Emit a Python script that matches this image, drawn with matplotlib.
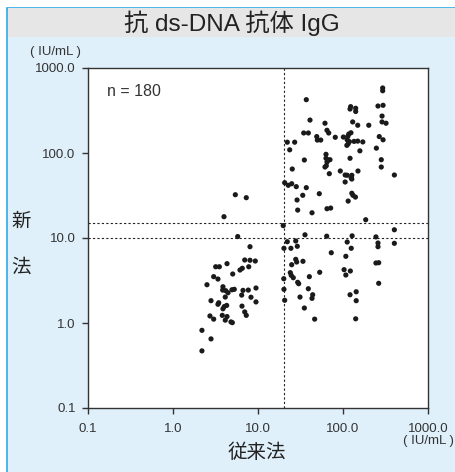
import matplotlib.pyplot as plt
from matplotlib.patches import Rectangle

# 従来法 (x) vs 新法 (y), IU/mL
conventional = [
    3.98, 5.77, 8.05, 3.18, 3.51, 4.32, 6.98, 8.05, 9.29, 7.78,
    6.14, 6.53, 5.04, 3.01, 3.38, 2.51, 3.87, 3.84, 4.17, 4.44,
    4.94, 5.26, 6.66, 7.69, 9.47, 6.43, 4.12, 8.27, 2.80, 3.45,
    3.38, 4.28, 4.01, 3.87, 9.47, 6.48, 6.98, 7.28, 2.72, 3.01,
    3.80, 4.32, 4.12, 4.81, 4.99, 2.19, 2.80, 2.19, 5.41, 7.28,
    293, 293, 37.0, 258, 296, 123, 121, 141, 141, 288,
    40.9, 130, 149, 288, 321, 61.4, 201, 64.8, 67.9, 34.5,
    39.1, 124, 117, 114, 81.1, 101, 49.1, 49.9, 54.7, 267,
    296, 112, 119, 135, 149, 171, 22.1, 27.0, 111, 115,
    23.6, 247, 158, 63.1, 121, 35.1, 63.1, 67.2, 70.3, 64.8,
    282, 282, 61.4, 63.6, 25.3, 92.9, 150, 69.0, 106, 112,
    127, 125, 127, 402, 106, 20.6, 22.7, 24.9, 28.2, 37.0,
    33.6, 52.6, 127, 131, 140, 28.8, 115, 64.8, 71.6, 29.3,
    43.2, 185, 19.8, 35.7, 64.3, 128, 244, 402, 22.1, 27.8,
    29.0, 24.4, 20.2, 72.8, 112, 125, 258, 258, 402, 108,
    27.8, 28.5, 24.9, 33.8, 244, 263, 53.2, 103, 122, 108,
    24.0, 24.6, 26.0, 20.1, 40.2, 29.3, 30.1, 263, 20.2, 39.1,
    44.0, 43.2, 31.2, 121, 143, 143, 20.6, 35.1, 46.4, 141,
]
new_method = [
    17.8, 10.4, 7.90, 4.59, 4.59, 4.99, 5.51, 5.47, 5.36, 4.59,
    4.20, 4.40, 3.77, 3.51, 3.29, 2.82, 2.67, 2.44, 2.40, 2.27,
    2.46, 2.49, 2.42, 2.44, 2.58, 2.13, 2.02, 2.01, 1.83, 1.73,
    1.66, 1.61, 1.56, 1.47, 1.77, 1.58, 1.35, 1.23, 1.21, 1.11,
    1.23, 1.19, 1.08, 1.03, 1.01, 0.82, 0.65, 0.47, 32.3, 29.8,
    582, 540, 424, 357, 364, 351, 329, 336, 308, 272,
    244, 232, 212, 232, 224, 224, 212, 185, 172, 172,
    172, 173, 167, 157, 153, 154, 156, 142, 142, 156,
    143, 143, 136, 137, 138, 135, 134, 134, 123, 128,
    109, 114, 106, 96.5, 86.7, 82.7, 86.7, 82.7, 83.4, 78.3,
    83.4, 68.4, 68.4, 70.9, 64.8, 61.4, 61.4, 57.1, 55.1, 54.7,
    54.7, 50.8, 49.4, 55.1, 45.6, 44.7, 41.7, 43.5, 40.2, 39.1,
    31.8, 33.2, 33.6, 31.8, 30.3, 28.0, 27.2, 22.1, 22.5, 21.3,
    19.8, 16.4, 14.0, 10.9, 10.5, 10.6, 10.3, 12.5, 9.04, 9.22,
    7.99, 7.57, 7.57, 6.71, 8.97, 7.57, 8.73, 7.90, 8.66, 6.09,
    5.61, 5.22, 4.85, 5.32, 5.08, 5.12, 3.95, 4.24, 4.09, 3.67,
    3.91, 3.64, 3.41, 3.32, 3.51, 3.01, 2.90, 2.93, 2.49, 2.53,
    2.15, 1.95, 2.02, 2.15, 2.33, 1.83, 1.85, 1.50, 1.11, 1.12,
]
x_cut = 20
y_cuts = [10, 15]
ticks = [0.1, 1, 10, 100, 1000]
tick_labels = ['0.1', '1.0', '10.0', '100.0', '1000.0']

fonts = ['Liberation Sans', 'Noto Sans CJK JP', 'DejaVu Sans']
plt.rcParams['font.family'] = fonts
txt = '#333333'

fig = plt.figure(figsize=(4.55, 4.72), dpi=100)
fig.patch.set_facecolor('white')
fig.patches.append(Rectangle((6.5 / 455, -0.02), 1, 1.02 - 8 / 472, transform=fig.transFigure,
                             facecolor='#dff0fb', edgecolor='#2fa8e6', linewidth=1.2, zorder=-2))
fig.patches.append(Rectangle((7.5 / 455, 1 - 37 / 472), 1, 28.5 / 472, transform=fig.transFigure,
                             facecolor='#e6e6e6', edgecolor='none', zorder=-1))
fig.text(232 / 455, 1 - 23 / 472, '抗 ds-DNA 抗体 IgG', ha='center', va='center',
         fontsize=17.5, color='#222222', family=['Liberation Sans', 'Noto Sans CJK JP'])

ax = fig.add_axes([88 / 455, 1 - 408 / 472, 340 / 455, 340 / 472])
ax.set_facecolor('white')
ax.set_xscale('log')
ax.set_yscale('log')
ax.set_xlim(0.1, 1000)
ax.set_ylim(0.1, 1000)
ax.set_xticks(ticks)
ax.set_xticklabels(tick_labels)
ax.set_yticks(ticks)
ax.set_yticklabels(tick_labels)
ax.minorticks_off()
ax.tick_params(length=4, width=1, color='#333333', labelsize=9.5, labelcolor=txt)
ax.tick_params(axis='x', pad=7)
ax.tick_params(axis='y', pad=5)
for s in ax.spines.values():
    s.set_color('#333333')
    s.set_linewidth(1)

ax.axvline(x_cut, color='#222222', lw=0.8, ls=(0, (2, 2)))
for yc in y_cuts:
    ax.axhline(yc, color='#222222', lw=0.8, ls=(0, (2, 2)))

ax.scatter(conventional, new_method, s=14, color='#1a1a1a', edgecolors='none', zorder=3)

ax.text(0.055, 0.93, 'n = 180', transform=ax.transAxes, fontsize=11.5, color=txt, va='center')

fig.text(55 / 455, 1 - 52 / 472, '( IU/mL )', ha='center', va='center', fontsize=9.5, color=txt)
fig.text(428 / 455, 1 - 441 / 472, '( IU/mL )', ha='center', va='center', fontsize=9.5, color=txt)
fig.text(21 / 455, 1 - 222 / 472, '新', ha='center', va='center', fontsize=14, color='#222222')
fig.text(21 / 455, 1 - 268 / 472, '法', ha='center', va='center', fontsize=14, color='#222222')
fig.text(257 / 455, 1 - 453 / 472, '従来法', ha='center', va='center', fontsize=14, color='#222222')

fig.savefig('out.png', dpi=100, facecolor=fig.get_facecolor())
